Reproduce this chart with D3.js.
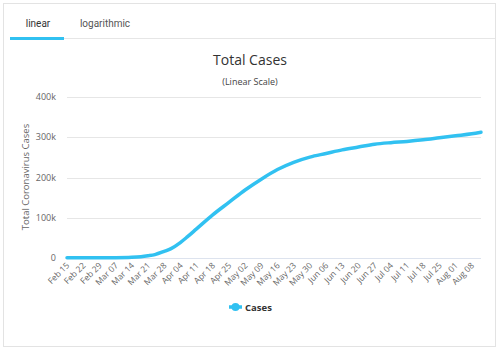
<!DOCTYPE html>
<html>
<head>
<meta charset="utf-8">
<script src="https://cdn.jsdelivr.net/npm/d3@7"></script>
<style>
    body { margin: 0; background: #fff; }
    svg { display: block; font-family: "Open Sans", sans-serif; }
</style>
</head>
<body>
<div id="chart"></div>
<script>
// total cases
let dates = [
    "2020-02-15", "2020-02-22", "2020-02-29", "2020-03-07", "2020-03-14",
    "2020-03-18", "2020-03-21", "2020-03-24", "2020-03-28", "2020-03-31",
    "2020-04-04", "2020-04-07", "2020-04-11", "2020-04-18", "2020-04-25",
    "2020-05-02", "2020-05-09", "2020-05-16", "2020-05-23", "2020-05-30",
    "2020-06-06", "2020-06-13", "2020-06-20", "2020-06-27", "2020-07-04",
    "2020-07-11", "2020-07-18", "2020-07-25", "2020-08-01", "2020-08-08",
    "2020-08-12"
]
let cases = [
    9, 9, 23, 210, 1140,
    2700, 5000, 8000, 16000, 23000,
    38000, 52000, 72000, 107000, 138000,
    169000, 196000, 220000, 238000, 251000,
    260000, 269000, 276000, 283000, 287000,
    290000, 294000, 299000, 304000, 309000,
    313000
]

let tickLabels = [
    "Feb 15", "Feb 22", "Feb 29", "Mar 07", "Mar 14", "Mar 21", "Mar 28",
    "Apr 04", "Apr 11", "Apr 18", "Apr 25", "May 02", "May 09", "May 16",
    "May 23", "May 30", "Jun 06", "Jun 13", "Jun 20", "Jun 27", "Jul 04",
    "Jul 11", "Jul 18", "Jul 25", "Aug 01", "Aug 08"
]
let yTicks = [0, 100000, 200000, 300000, 400000]

let tabs = ["linear", "logarithmic"]

const width = 500
const height = 350
const lineColor = "#31c1f1"

const parseDate = d3.timeParse("%Y-%m-%d")
const parseTick = s => d3.timeParse("%b %d %Y")(s + " 2020")

let data = dates.map((d, i) => ({ date: parseDate(d), value: cases[i] }))

let svg = d3.select("#chart")
    .append("svg")
    .attr("width", width)
    .attr("height", height)

// outer box
svg.append("rect")
    .attr("x", 3.5)
    .attr("y", 3.5)
    .attr("width", 492)
    .attr("height", 343)
    .attr("fill", "#fff")
    .attr("stroke", "#e3e3e3")

// tabs
svg.append("line")
    .attr("x1", 64).attr("x2", 495)
    .attr("y1", 38.5).attr("y2", 38.5)
    .attr("stroke", "#e6e6e6")

svg.append("rect")
    .attr("x", 10)
    .attr("y", 37)
    .attr("width", 54)
    .attr("height", 3)
    .attr("fill", lineColor)

svg.selectAll(".tab")
    .data(tabs)
    .enter()
    .append("text")
    .attr("class", "tab")
    .attr("x", (d, i) => i == 0 ? 38 : 105)
    .attr("y", 27)
    .attr("text-anchor", "middle")
    .attr("font-family", "Roboto, sans-serif")
    .attr("font-size", "10px")
    .attr("fill", (d, i) => i == 0 ? "#333" : "#555")
    .text(d => d)

// titles
svg.append("text")
    .attr("x", 250)
    .attr("y", 65)
    .attr("text-anchor", "middle")
    .attr("font-size", "14px")
    .attr("fill", "#333")
    .text("Total Cases")

svg.append("text")
    .attr("x", 250)
    .attr("y", 85)
    .attr("text-anchor", "middle")
    .attr("font-size", "9px")
    .attr("fill", "#444")
    .text("(Linear Scale)")

// scales
let x = d3.scaleTime()
    .domain([data[0].date, data[data.length - 1].date])
    .range([67, 481])

let y = d3.scaleLinear()
    .domain([0, 400000])
    .range([257.8, 97.3])

// grid
svg.append("g")
    .selectAll("line")
    .data(yTicks)
    .enter()
    .append("line")
    .attr("x1", 67)
    .attr("x2", 481)
    .attr("y1", d => Math.round(y(d)) + 0.5)
    .attr("y2", d => Math.round(y(d)) + 0.5)
    .attr("stroke", d => d == 0 ? "#dde3ee" : "#e6e6e6")

// y axis labels
svg.append("g")
    .selectAll("text")
    .data(yTicks)
    .enter()
    .append("text")
    .attr("x", 56)
    .attr("y", d => y(d) + 3)
    .attr("text-anchor", "end")
    .attr("font-size", "9px")
    .attr("fill", "#666")
    .text(d => d == 0 ? "0" : (d / 1000) + "k")

svg.append("text")
    .attr("transform", "translate(29,177) rotate(-90)")
    .attr("text-anchor", "middle")
    .attr("font-size", "9.5px")
    .attr("fill", "#666")
    .text("Total Coronavirus Cases")

// x axis labels
svg.append("g")
    .selectAll("text")
    .data(tickLabels)
    .enter()
    .append("text")
    .attr("transform", d => "translate(" + (x(parseTick(d)) + 3) + ",266) rotate(-45)")
    .attr("text-anchor", "end")
    .attr("font-size", "8.5px")
    .attr("fill", "#666")
    .text(d => d)

// the line
let line = d3.line()
    .x(d => x(d.date))
    .y(d => y(d.value))
    .curve(d3.curveMonotoneX)

svg.append("path")
    .datum(data)
    .attr("d", line)
    .attr("fill", "none")
    .attr("stroke", lineColor)
    .attr("stroke-width", 3.5)
    .attr("stroke-linejoin", "round")
    .attr("stroke-linecap", "round")

// legend
let legend = svg.append("g")
    .attr("transform", "translate(229,307)")

legend.append("line")
    .attr("x1", 0).attr("x2", 13)
    .attr("y1", 0).attr("y2", 0)
    .attr("stroke", lineColor)
    .attr("stroke-width", 3.5)

legend.append("circle")
    .attr("cx", 6.5)
    .attr("cy", 0)
    .attr("r", 4)
    .attr("fill", lineColor)

legend.append("text")
    .attr("x", 16)
    .attr("y", 3.5)
    .attr("font-size", "9.5px")
    .attr("font-weight", "bold")
    .attr("fill", "#333")
    .text("Cases")
</script>
</body>
</html>
